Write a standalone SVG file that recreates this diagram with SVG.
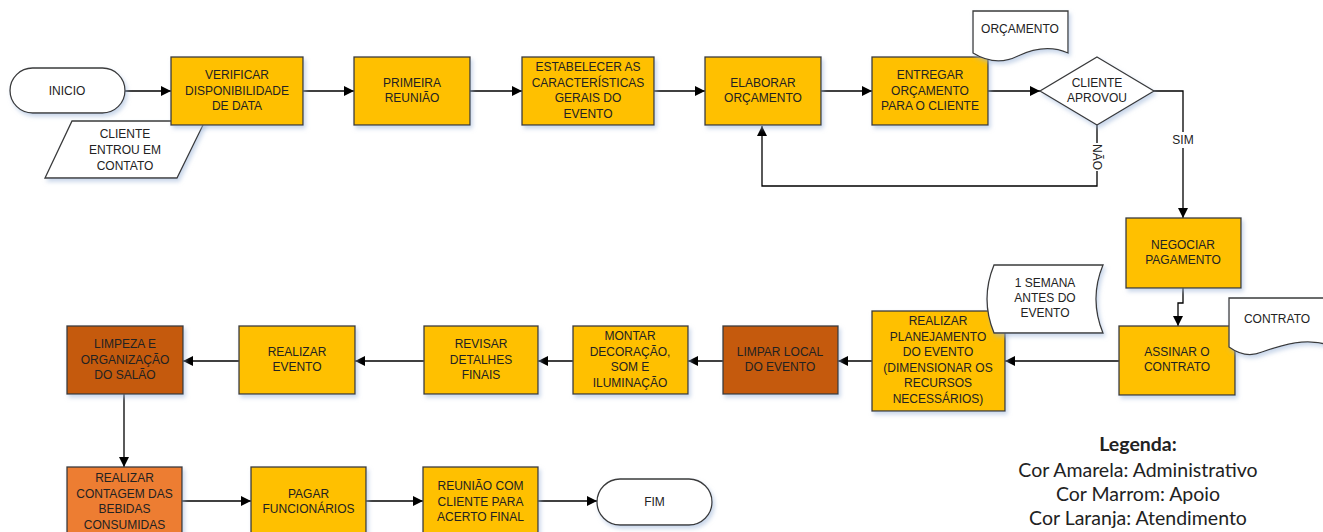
<svg xmlns="http://www.w3.org/2000/svg" width="1323" height="532" viewBox="0 0 1323 532">
<style>
.box{stroke:#3a3a3a;stroke-width:1.3;filter:url(#sh)}
.y{fill:#FFC000}.b{fill:#C55A11}.o{fill:#ED7D31}.w{fill:#fff}
.t{font-family:"Liberation Sans",Arial,sans-serif;font-size:12px;fill:#222;text-anchor:middle;dominant-baseline:central}
.c{fill:none;stroke:#000;stroke-width:1.3;marker-end:url(#ar)}
.lg{font-family:Lato,"Open Sans",sans-serif;font-size:19.5px;fill:#222;text-anchor:middle}
</style>
<defs>
<filter id="sh" x="-10%" y="-10%" width="130%" height="140%">
<feDropShadow dx="2" dy="3" stdDeviation="2" flood-color="#9db5d9" flood-opacity="0.55"/>
</filter>
<marker id="ar" viewBox="0 0 10 10" refX="10" refY="5" markerWidth="10" markerHeight="10" markerUnits="userSpaceOnUse" orient="auto">
<path d="M0,0 L10,5 L0,10 Z" fill="#000"/>
</marker>
</defs>
<rect width="1323" height="532" fill="#fff"/>

<g id="connectors">
<path class="c" d="M125,91 H171"/>
<path class="c" d="M303,91 H354"/>
<path class="c" d="M470,91 H522"/>
<path class="c" d="M654,91 H705"/>
<path class="c" d="M821,91 H872"/>
<path class="c" d="M988,91 H1040"/>
<path class="c" d="M1097,125 V186 H762 V126"/>
<path class="c" d="M1154,91 H1183 V218"/>
<path class="c" d="M1183,288 V303 H1178 V326"/>
<path class="c" d="M1119,361 H1005"/>
<path class="c" d="M872,361 H838"/>
<path class="c" d="M723,361 H688"/>
<path class="c" d="M573,361 H538"/>
<path class="c" d="M424,361 H355"/>
<path class="c" d="M239,361 H183"/>
<path class="c" d="M124,394 V467"/>
<path class="c" d="M182,501 H251"/>
<path class="c" d="M366,501 H423"/>
<path class="c" d="M538,501 H597"/>
<rect x="1171" y="132" width="24" height="16" fill="#fff"/>
<text class="t" x="1183" y="140">SIM</text>
<rect x="1089" y="143" width="16" height="28" fill="#fff"/>
<text class="t" transform="translate(1097,157) rotate(90)" x="0" y="0">NÃO</text>
</g>

<g id="inicio">
<rect class="box w" x="10" y="68" width="115" height="45" rx="22.5"/>
<text class="t" x="67" y="91">INICIO</text>
</g>
<g id="cliente-entrou">
<path class="box w" d="M72,121 H205 L177,178 H45 Z"/>
<text class="t" x="125" y="134">CLIENTE</text>
<text class="t" x="125" y="150">ENTROU EM</text>
<text class="t" x="125" y="166">CONTATO</text>
</g>
<g id="verificar">
<rect class="box y" x="171" y="57" width="132" height="68"/>
<text class="t" x="237" y="75">VERIFICAR</text>
<text class="t" x="237" y="90.5">DISPONIBILIDADE</text>
<text class="t" x="237" y="106">DE DATA</text>
</g>
<g id="primeira">
<rect class="box y" x="354" y="57" width="116" height="68"/>
<text class="t" x="412" y="83">PRIMEIRA</text>
<text class="t" x="412" y="98">REUNIÃO</text>
</g>
<g id="estabelecer">
<rect class="box y" x="522" y="57" width="132" height="68"/>
<text class="t" x="588" y="67">ESTABELECER AS</text>
<text class="t" x="588" y="82.5">CARACTERÍSTICAS</text>
<text class="t" x="588" y="98">GERAIS DO</text>
<text class="t" x="588" y="113.5">EVENTO</text>
</g>
<g id="elaborar">
<rect class="box y" x="705" y="57" width="116" height="68"/>
<text class="t" x="763" y="83">ELABORAR</text>
<text class="t" x="763" y="98">ORÇAMENTO</text>
</g>
<g id="entregar">
<rect class="box y" x="872" y="57" width="116" height="68"/>
<text class="t" x="930" y="75">ENTREGAR</text>
<text class="t" x="930" y="90.5">ORÇAMENTO</text>
<text class="t" x="930" y="106">PARA O CLIENTE</text>
</g>
<g id="orcamento-doc">
<path class="box w" d="M973,11 H1068 V53 C1052,46 1035,48 1018,56 C1002,64 986,61 973,53 Z"/>
<text class="t" x="1020" y="29">ORÇAMENTO</text>
</g>
<g id="cliente-aprovou">
<polygon class="box w" points="1097,57 1154,91 1097,125 1040,91"/>
<text class="t" x="1097" y="83">CLIENTE</text>
<text class="t" x="1097" y="98">APROVOU</text>
</g>
<g id="negociar">
<rect class="box y" x="1126" y="218" width="115" height="70"/>
<text class="t" x="1183" y="245">NEGOCIAR</text>
<text class="t" x="1183" y="260">PAGAMENTO</text>
</g>
<g id="assinar">
<rect class="box y" x="1119" y="326" width="116" height="69"/>
<text class="t" x="1177" y="352">ASSINAR O</text>
<text class="t" x="1177" y="367">CONTRATO</text>
</g>
<g id="contrato-doc">
<path class="box w" d="M1229,298 H1330 V345 C1305,338 1285,344 1262,352 C1250,357 1240,355 1229,347 Z"/>
<text class="t" x="1277" y="319">CONTRATO</text>
</g>
<g id="planejamento">
<rect class="box y" x="872" y="311" width="133" height="100"/>
<text class="t" x="938" y="321">REALIZAR</text>
<text class="t" x="938" y="336.5">PLANEJAMENTO</text>
<text class="t" x="938" y="352">DO EVENTO</text>
<text class="t" x="938" y="367.5">(DIMENSIONAR OS</text>
<text class="t" x="938" y="383">RECURSOS</text>
<text class="t" x="938" y="398.5">NECESSÁRIOS)</text>
</g>
<g id="semana">
<path class="box w" d="M994,265 H1103 Q1089,299 1103,333 H994 Q980,299 994,265 Z"/>
<text class="t" x="1045" y="283">1 SEMANA</text>
<text class="t" x="1045" y="298">ANTES DO</text>
<text class="t" x="1045" y="313">EVENTO</text>
</g>
<g id="limpar-local">
<rect class="box b" x="723" y="326" width="115" height="68"/>
<text class="t" x="780" y="352">LIMPAR LOCAL</text>
<text class="t" x="780" y="367">DO EVENTO</text>
</g>
<g id="montar">
<rect class="box y" x="573" y="326" width="115" height="68"/>
<text class="t" x="630" y="336">MONTAR</text>
<text class="t" x="630" y="351.5">DECORAÇÃO,</text>
<text class="t" x="630" y="367">SOM E</text>
<text class="t" x="630" y="382.5">ILUMINAÇÃO</text>
</g>
<g id="revisar">
<rect class="box y" x="424" y="326" width="114" height="68"/>
<text class="t" x="481" y="344">REVISAR</text>
<text class="t" x="481" y="359.5">DETALHES</text>
<text class="t" x="481" y="375">FINAIS</text>
</g>
<g id="realizar-evento">
<rect class="box y" x="239" y="326" width="116" height="68"/>
<text class="t" x="297" y="352">REALIZAR</text>
<text class="t" x="297" y="367">EVENTO</text>
</g>
<g id="limpeza">
<rect class="box b" x="67" y="326" width="116" height="68"/>
<text class="t" x="125" y="344">LIMPEZA E</text>
<text class="t" x="125" y="359.5">ORGANIZAÇÃO</text>
<text class="t" x="125" y="375">DO SALÃO</text>
</g>
<g id="contagem">
<rect class="box o" x="67" y="467" width="115" height="72"/>
<text class="t" x="124.5" y="478">REALIZAR</text>
<text class="t" x="124.5" y="493.5">CONTAGEM DAS</text>
<text class="t" x="124.5" y="509">BEBIDAS</text>
<text class="t" x="124.5" y="524.5">CONSUMIDAS</text>
</g>
<g id="pagar">
<rect class="box y" x="251" y="467" width="115" height="72"/>
<text class="t" x="308.5" y="494">PAGAR</text>
<text class="t" x="308.5" y="509">FUNCIONÁRIOS</text>
</g>
<g id="reuniao">
<rect class="box y" x="423" y="467" width="115" height="72"/>
<text class="t" x="480.5" y="486">REUNIÃO COM</text>
<text class="t" x="480.5" y="501.5">CLIENTE PARA</text>
<text class="t" x="480.5" y="517">ACERTO FINAL</text>
</g>
<g id="fim">
<rect class="box w" x="597" y="479" width="115" height="46" rx="23"/>
<text class="t" x="654.5" y="502">FIM</text>
</g>
<g id="legenda">
<text class="lg" x="1138" y="451" font-weight="bold">Legenda:</text>
<text class="lg" x="1138" y="477">Cor Amarela: Administrativo</text>
<text class="lg" x="1138" y="501">Cor Marrom: Apoio</text>
<text class="lg" x="1138" y="525">Cor Laranja: Atendimento</text>
</g>
</svg>
